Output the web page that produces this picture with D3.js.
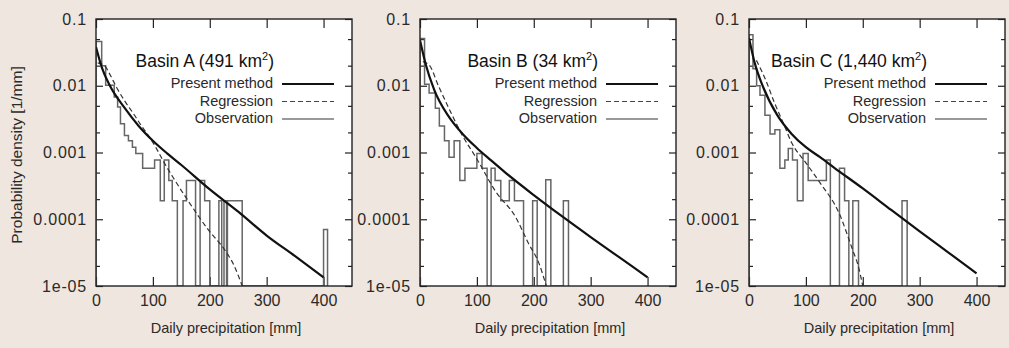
<!DOCTYPE html>
<html>
<head>
<meta charset="utf-8">
<script src="https://cdn.jsdelivr.net/npm/d3@7"></script>
<style>
  body { margin: 0; background: #efe6df; }
  svg { display: block; font-family: "Liberation Sans", Arial, sans-serif; }
</style>
</head>
<body>
<div id="chart"></div>
<script>
// ---- data ----
const xTicks = [0, 100, 200, 300, 400];
const yTicks = [0.1, 0.01, 0.001, 0.0001, 0.00001];
const yTickLabels = ['0.1', '0.01', '0.001', '0.0001', '1e-05'];
const legendLabels = ['Present method', 'Regression', 'Observation'];

const basinNames = ['Basin A', 'Basin B', 'Basin C'];
const basinAreas = ['491', '34', '1,440'];

// present method: shared x grid (mm), density per basin (1/mm)
const presentX = [0, 10, 25, 50, 75, 100, 125, 150, 200, 250, 300, 350, 400];
const presentA = [0.038, 0.019, 0.0098, 0.0047, 0.0025, 0.0015, 0.00097, 0.00065, 0.00028, 0.00013, 0.000057, 0.000028, 0.0000135];
const presentB = [0.048, 0.021, 0.0087, 0.0035, 0.0019, 0.00117, 0.00076, 0.0005, 0.00023, 0.00011, 0.000054, 0.000027, 0.0000135];
const presentC = [0.052, 0.022, 0.0095, 0.0036, 0.0019, 0.0012, 0.00085, 0.00059, 0.00029, 0.000138, 0.000066, 0.000032, 0.0000155];

// regression curves
const regressionXA = [3, 15, 25, 36, 50, 66, 80, 92, 105, 120, 135, 160, 200, 225, 243, 257];
const regressionA = [0.022, 0.02, 0.0145, 0.0095, 0.006, 0.0038, 0.0025, 0.0018, 0.0012, 0.0007, 0.00043, 0.0002, 0.000065, 0.000036, 0.00002, 0.00001];
const regressionXB = [5, 16, 33, 56, 73, 100, 133, 168, 191, 209, 222];
const regressionB = [0.023, 0.0205, 0.0097, 0.0037, 0.0019, 0.0008, 0.00026, 0.000108, 0.000043, 0.000022, 0.00001];
const regressionXC = [13, 28, 45, 60, 75, 100, 124, 159, 182, 192, 200];
const regressionC = [0.024, 0.013, 0.0055, 0.0028, 0.0014, 0.0007, 0.00036, 0.00012, 0.000035, 0.00002, 0.00001];

// observed histograms: bin edges (mm) and densities (0 = empty bin)
const obsEdgesA = [0, 10, 17, 32, 38, 43, 50, 57, 64, 70, 82, 103, 113, 120, 128, 134, 143, 153, 159, 175, 183, 191, 200, 216, 221, 225, 229.5, 231, 257, 400, 407];
const obsValuesA = [0.046, 0.02, 0.0102, 0.0068, 0.0048, 0.0027, 0.0018, 0.0015, 0.0012, 0.00097, 0.00058, 0.00077, 0.00019, 0.00077, 0.00038, 0.00019, 0, 0.00019, 0.00038, 0, 0.00038, 0.00019, 0, 0.00019, 0, 0.00019, 0, 0.00019, 0, 0.00007];
const obsEdgesB = [0, 8, 16, 27, 34, 43, 51, 60, 70, 79, 100, 109, 118, 125, 132, 142, 157, 166, 182, 198, 206, 221, 230, 252, 261];
const obsValuesB = [0.051, 0.0105, 0.0078, 0.0046, 0.0025, 0.0015, 0.00085, 0.0015, 0.00038, 0.00058, 0.00097, 0.00058, 0, 0.00058, 0.00038, 0.00019, 0.00038, 0.00019, 0, 0.00019, 0, 0.00039, 0, 0.00019];
const obsEdgesC = [0, 7, 13.4, 19.3, 28, 37, 45.5, 54.3, 63, 69, 76.5, 85, 95, 104, 136, 143, 159, 168, 175.5, 182.5, 192.5, 269, 278];
const obsValuesC = [0.058, 0.018, 0.01, 0.0072, 0.0036, 0.0019, 0.0022, 0.00058, 0.00077, 0.00115, 0.00077, 0.00019, 0.00097, 0.00038, 0.00077, 0, 0.00058, 0.00019, 0, 0.00019, 0, 0.00019];

const panels = [
    { name: basinNames[0], area: basinAreas[0], present: presentA, regX: regressionXA, reg: regressionA, edges: obsEdgesA, obs: obsValuesA },
    { name: basinNames[1], area: basinAreas[1], present: presentB, regX: regressionXB, reg: regressionB, edges: obsEdgesB, obs: obsValuesB },
    { name: basinNames[2], area: basinAreas[2], present: presentC, regX: regressionXC, reg: regressionC, edges: obsEdgesC, obs: obsValuesC }
];

// ---- layout ----
const width = 1009, height = 348;
const plotTop = 19, plotBottom = 286, plotW = 256;
const panelLeft = [96, 420, 749];
const textColor = '#2a2a2a';

const svg = d3.select('#chart')
    .append('svg')
    .attr('width', width)
    .attr('height', height);

svg.append('rect')
    .attr('width', width)
    .attr('height', height)
    .attr('fill', '#efe6df');

const yMinor = yTicks.slice(0, -1).flatMap(t => [t / 2, t / 5]);

panels.forEach((p, i) => {
    const left = panelLeft[i];
    const x = d3.scaleLinear().domain([0, 450]).range([left, left + plotW]);
    const y = d3.scaleLog().domain([1e-5, 0.1]).range([plotBottom, plotTop]);
    const g = svg.append('g');

    g.append('rect')
        .attr('x', left).attr('y', plotTop)
        .attr('width', plotW).attr('height', plotBottom - plotTop)
        .attr('fill', '#fff');

    g.append('clipPath').attr('id', `clip${i}`)
        .append('rect')
        .attr('x', left).attr('y', plotTop)
        .attr('width', plotW).attr('height', plotBottom - plotTop);

    // ticks (gnuplot style: inward, mirrored)
    const styleAxis = sel => {
        sel.select('.domain').remove();
        sel.selectAll('line').attr('stroke', '#222').attr('stroke-width', 1.2);
        sel.selectAll('text').attr('fill', textColor).attr('font-size', 16);
    };
    g.append('g').attr('transform', `translate(0,${plotBottom})`)
        .call(d3.axisBottom(x).tickValues(xTicks).tickSize(-9).tickPadding(9).tickFormat(d3.format('d')))
        .call(styleAxis);
    g.append('g').attr('transform', `translate(0,${plotTop})`)
        .call(d3.axisTop(x).tickValues(xTicks).tickSize(-9).tickFormat(''))
        .call(styleAxis);
    g.append('g').attr('transform', `translate(${left},0)`)
        .call(d3.axisLeft(y).tickValues(yTicks).tickSize(-7).tickPadding(9).tickFormat((d, k) => yTickLabels[k]))
        .call(styleAxis)
        .selectAll('text').attr('letter-spacing', 0.8);
    g.append('g').attr('transform', `translate(${left},0)`)
        .call(d3.axisLeft(y).tickValues(yMinor).tickSize(-4).tickFormat(''))
        .call(styleAxis);
    g.append('g').attr('transform', `translate(${left + plotW},0)`)
        .call(d3.axisRight(y).tickValues(yTicks).tickSize(-7).tickFormat(''))
        .call(styleAxis);
    g.append('g').attr('transform', `translate(${left + plotW},0)`)
        .call(d3.axisRight(y).tickValues(yMinor).tickSize(-4).tickFormat(''))
        .call(styleAxis);

    const plot = g.append('g').attr('clip-path', `url(#clip${i})`);

    // observation histogram
    const yv = v => (v > 0 ? y(v) : plotBottom);
    const histPts = [[p.edges[0], 0]]
        .concat(p.obs.map((v, k) => [p.edges[k], v]))
        .concat([[p.edges[p.edges.length - 1], 0]]);
    plot.append('path')
        .attr('d', d3.line().x(d => x(d[0])).y(d => yv(d[1])).curve(d3.curveStepAfter)(histPts))
        .attr('fill', 'none')
        .attr('stroke', '#666')
        .attr('stroke-width', 1.5);

    // regression
    plot.append('path')
        .attr('d', d3.line().x(d => x(d[0])).y(d => y(d[1])).curve(d3.curveMonotoneX)(p.regX.map((v, k) => [v, p.reg[k]])))
        .attr('fill', 'none')
        .attr('stroke', '#333')
        .attr('stroke-width', 1.2)
        .attr('stroke-dasharray', '5,3');

    // present method
    plot.append('path')
        .attr('d', d3.line().x(d => x(d[0])).y(d => y(d[1])).curve(d3.curveMonotoneX)(presentX.map((v, k) => [v, p.present[k]])))
        .attr('fill', 'none')
        .attr('stroke', '#111')
        .attr('stroke-width', 2.2);

    // frame
    g.append('rect')
        .attr('x', left).attr('y', plotTop)
        .attr('width', plotW).attr('height', plotBottom - plotTop)
        .attr('fill', 'none')
        .attr('stroke', '#222')
        .attr('stroke-width', 1.4);

    // title with superscript
    const title = g.append('text')
        .attr('x', left + 178).attr('y', 67)
        .attr('text-anchor', 'end')
        .attr('font-size', 17.5)
        .attr('fill', '#111');
    title.append('tspan').text(`${p.name} (${p.area} km`);
    title.append('tspan').attr('dy', -7).attr('font-size', 11).text('2');
    title.append('tspan').attr('dy', 7).text(')');

    // legend
    const lg = g.append('g');
    const sample = [
        { stroke: '#111', w: 2.2, dash: null },
        { stroke: '#444', w: 1.2, dash: '5,3' },
        { stroke: '#777', w: 1.5, dash: null }
    ];
    legendLabels.forEach((lab, k) => {
        const cy = 83 + k * 17.5;
        lg.append('text')
            .attr('x', left + 177).attr('y', cy + 5)
            .attr('text-anchor', 'end')
            .attr('font-size', 14.5)
            .attr('fill', textColor)
            .text(lab);
        lg.append('line')
            .attr('x1', left + 186).attr('x2', left + 238)
            .attr('y1', cy + 1).attr('y2', cy + 1)
            .attr('stroke', sample[k].stroke)
            .attr('stroke-width', sample[k].w)
            .attr('stroke-dasharray', sample[k].dash);
    });

    // x axis title
    g.append('text')
        .attr('x', left + 130).attr('y', 333)
        .attr('text-anchor', 'middle')
        .attr('font-size', 14.5)
        .attr('fill', textColor)
        .text('Daily precipitation [mm]');
});

// y axis title (first panel only)
svg.append('text')
    .attr('transform', 'translate(22,155) rotate(-90)')
    .attr('text-anchor', 'middle')
    .attr('font-size', 15.5)
    .attr('fill', textColor)
    .text('Probability density [1/mm]');
</script>
</body>
</html>
